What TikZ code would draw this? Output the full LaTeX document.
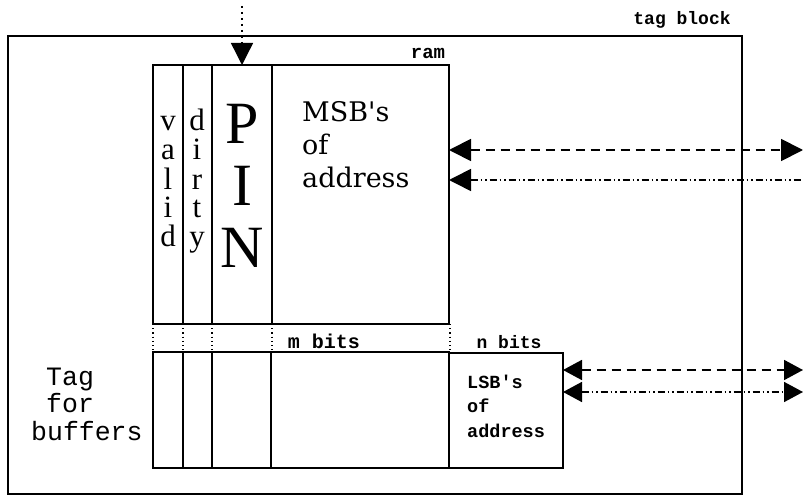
\documentclass[tikz,border=0pt]{standalone}
\usepackage{fontspec}
\setmainfont{Liberation Serif}
\newfontfamily\dvserif{DejaVu Serif}
\newfontfamily\lmono{Liberation Mono}
\usetikzlibrary{arrows.meta}
\begin{document}
\begin{tikzpicture}[x=1pt,y=-1pt,
  box/.style={draw,line width=1.6pt,inner sep=0pt,outer sep=0pt,anchor=north west},
  sepline/.style={line width=1.4pt},
  dotsep/.style={line width=1.2pt,dash pattern=on 1.2pt off 3pt},
  topdots/.style={line width=1.4pt,dash pattern=on 2pt off 4pt},
  dashline/.style={line width=1.8pt,dash pattern=on 9pt off 6pt},
  dddline/.style={line width=1.6pt,dash pattern=on 7pt off 3pt on 1.5pt off 3pt on 1.5pt off 3pt},
  bigtip/.tip={Triangle[length=22pt,width=22pt]},
  midtip/.tip={Triangle[length=19pt,width=20pt]},
  lbl/.style={font=\lmono\bfseries\fontsize{18}{20}\selectfont,anchor=base,inner sep=0pt},
  col/.style={font=\fontsize{31}{29}\selectfont,align=center,anchor=base,inner sep=0pt},
]
\useasboundingbox (0,0) rectangle (803,497);
% outer tag block
\node[box,line width=2pt,minimum width=734pt,minimum height=458pt] (tagblock) at (8,36) {};
\node[lbl] (tbl) at (682,25) {tag block};
% ram
\node[box,minimum width=296pt,minimum height=259pt] (ram) at (153,65) {};
\node[lbl,font=\lmono\bfseries\fontsize{19}{20}\selectfont] (raml) at (428,59) {ram};
\foreach \x in {183,212,272} \draw[sepline] (\x,65) -- (\x,324);
% dotted band
\foreach \x in {153,183,212,272,450} \draw[dotsep] (\x,324) -- (\x,352);
% buffer tag block
\node[box,minimum width=296pt,minimum height=116pt] (buf) at (153,352) {};
\foreach \x in {183,212,271} \draw[sepline] (\x,352) -- (\x,468);
\node[box,minimum width=114pt,minimum height=115pt] (lsb) at (449,353) {};
% labels
\node[col] (valid) at (168,247) {v\\a\\l\\i\\d};
\node[col] (dirty) at (197,247) {d\\i\\r\\t\\y};
\node[col,font=\fontsize{60}{62}\selectfont] (pin) at (242,267) {P\\I\\N};
\node[anchor=base west,inner sep=0pt,align=left,font=\dvserif\fontsize{27}{33}\selectfont] (msb) at (302,188) {MSB's\\of\\address};
\node[lbl,font=\lmono\bfseries\fontsize{20}{20}\selectfont] (mbits) at (324,348) {m bits};
\node[lbl] (nbits) at (509,348) {n bits};
\node[anchor=base west,inner sep=0pt,align=left,font=\lmono\bfseries\fontsize{18.5}{24.5}\selectfont] (lsbt) at (467,437) {LSB's\\of\\address};
\node[anchor=base west,inner sep=0pt,align=left,font=\lmono\fontsize{26.5}{27.5}\selectfont] (tagbuf) at (31,440) {\hspace*{15pt}Tag\\\hspace*{15pt}for\\buffers};
% connectors
\coordinate (src) at (242,6);
\draw[topdots,-{bigtip[sep=0pt]}] (src) -- (src |- ram.north);
\coordinate (r1) at (803,150);
\coordinate (r2) at (803,180);
\coordinate (r3) at (803,370);
\coordinate (r4) at (803,392);
\draw[dashline,{bigtip}-{bigtip}] (ram.east |- r1) -- (r1);
\draw[dddline,{bigtip}-] (ram.east |- r2) -- (r2);
\draw[dashline,{midtip}-{midtip}] (lsb.east |- r3) -- (r3);
\draw[dddline,{midtip}-{midtip}] (lsb.east |- r4) -- (r4);
\end{tikzpicture}
\end{document}
